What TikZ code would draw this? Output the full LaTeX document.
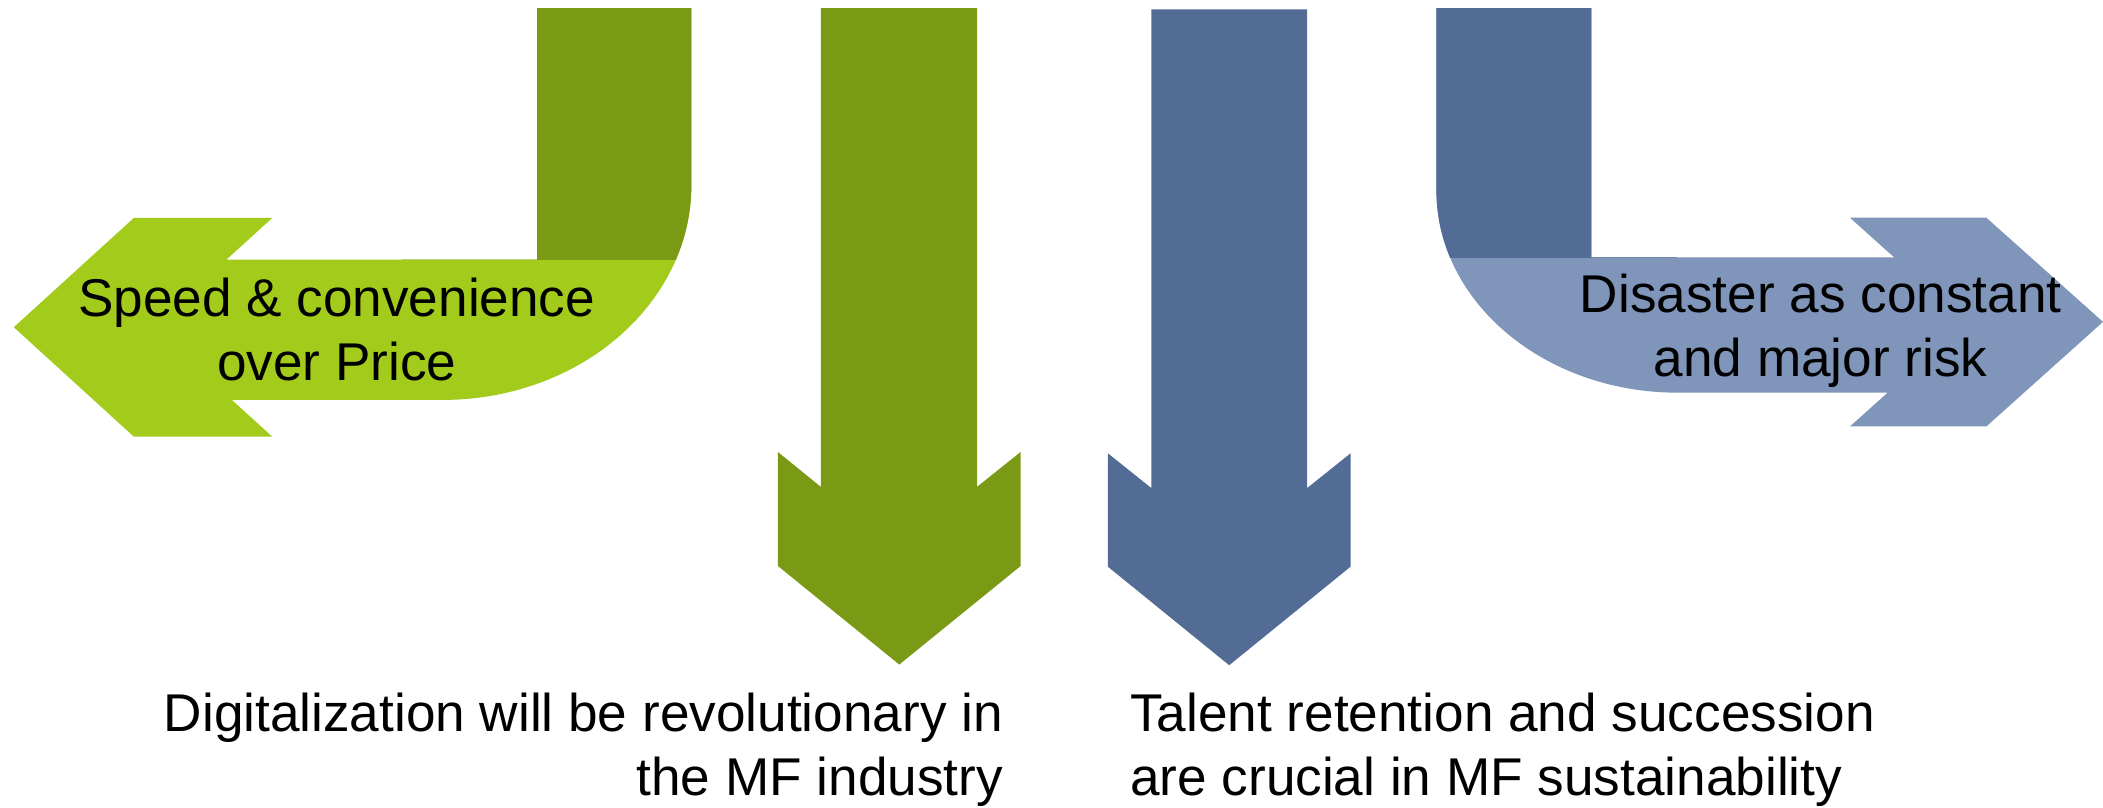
\documentclass[tikz,border=0pt]{standalone}
\usepackage{fontspec}
\setmainfont{Liberation Sans}
\definecolor{gdark}{HTML}{7A9A16}
\definecolor{glight}{HTML}{A2CB1C}
\definecolor{bdark}{HTML}{526C96}
\definecolor{blight}{HTML}{7F95BA}
\begin{document}
\begin{tikzpicture}[x=0.01cm,y=-0.01cm,
  lbl/.style={inner sep=0pt, font=\fontsize{11.27}{13.65}\selectfont}]
\useasboundingbox (0,0) rectangle (1568,602.45);

% ---- left bent arrow (green) ----
\def\leftbent{(400.5,6) -- (515.5,6) -- (515.5,138)
  .. controls (515.5,226.4) and (432.2,298.2) .. (330,298.2)
  -- (172.9,298.2) -- (203,325.6) -- (99.8,325.6) -- (10.3,244)
  -- (99.8,162.5) -- (203,162.5) -- (168.8,193.6) -- (400.5,193.6) -- cycle}
\fill[glight] \leftbent;
\begin{scope}
  \clip (300,0) rectangle (600,193.6);
  \fill[gdark] \leftbent;
\end{scope}

% ---- middle green down arrow ----
\fill[gdark] (612,6) -- (728.5,6) -- (728.5,363) -- (761,337) -- (761,422)
  -- (670.5,495.5) -- (580,422) -- (580,337) -- (612,363) -- cycle;

% ---- middle blue down arrow ----
\fill[bdark] (858.5,7) -- (974.5,7) -- (974.5,364) -- (1007,338) -- (1007,422.5)
  -- (916.5,496) -- (826,422.5) -- (826,338) -- (858.5,364) -- cycle;

% ---- right bent arrow (blue) ----
\def\rightbent{(1071,6) -- (1186.5,6) -- (1186.5,192) -- (1412.4,192)
  -- (1379.3,162.3) -- (1481,162.3) -- (1568,240) -- (1481,318)
  -- (1379.3,318) -- (1407.4,292.8) -- (1251,292.8)
  .. controls (1151.6,292.8) and (1071,225.2) .. (1071,142) -- cycle}
\fill[blight] \rightbent;
\begin{scope}
  \clip (1000,0) rectangle (1250,192);
  \fill[bdark] \rightbent;
\end{scope}

% ---- labels ----
\node[lbl, anchor=base] (speed) at (251,236)
  {\begin{tabular}[t]{@{}c@{}}Speed \& convenience\\over Price\end{tabular}};
\node[lbl, anchor=base] (disaster) at (1357.5,233)
  {\begin{tabular}[t]{@{}c@{}}Disaster as constant\\and major risk\end{tabular}};
\node[lbl, anchor=base east] (digital) at (748.5,545.5)
  {\begin{tabular}[t]{@{}r@{}}Digitalization will be revolutionary in\\the MF industry\end{tabular}};
\node[lbl, anchor=base west] (talent) at (842,545.5)
  {\begin{tabular}[t]{@{}l@{}}Talent retention and succession\\are crucial in MF sustainability\end{tabular}};
\end{tikzpicture}
\end{document}
